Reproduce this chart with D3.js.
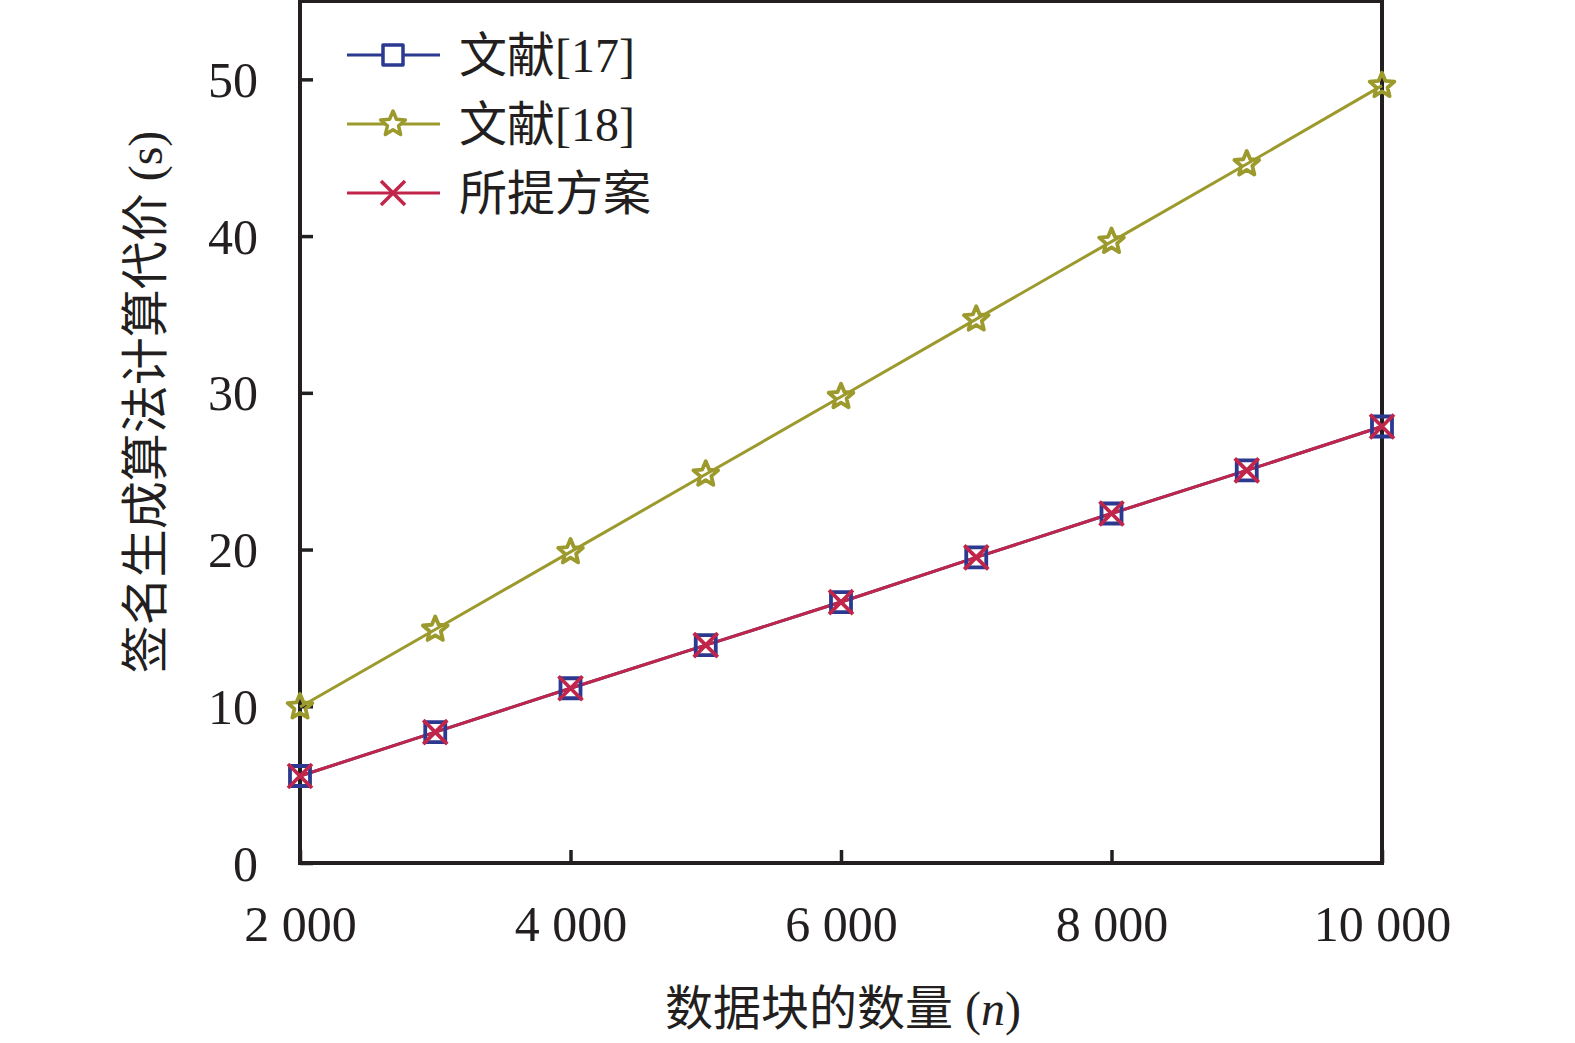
<!DOCTYPE html>
<html lang="zh">
  <head>
    <meta charset="UTF-8" />
    <title>签名生成算法计算代价</title>
    <script src="https://d3js.org/d3.v7.min.js"></script>
    <style>
      body {
        margin: 0;
        background: #fff;
      }
      svg {
        display: block;
        font-family: "Liberation Serif", "Noto Sans CJK SC", serif;
      }
      .tick-label {
        font-size: 50px;
        fill: #231f20;
      }
      .axis-title,
      .legend-text {
        font-size: 48px;
        fill: #231f20;
      }
      .series-line {
        fill: none;
        stroke-width: 3px;
      }
    </style>
  </head>
  <body>
    <svg id="chart"></svg>
    <script>
      // data
      const blockCounts = [2000, 3000, 4000, 5000, 6000, 7000, 8000, 9000, 10000];
      const ref17Costs = [5.55, 8.35, 11.15, 13.9, 16.65, 19.5, 22.3, 25.05, 27.85];
      const ref18Costs = [9.95, 14.9, 19.85, 24.8, 29.75, 34.7, 39.65, 44.6, 49.6];
      const proposedCosts = [5.55, 8.35, 11.15, 13.9, 16.65, 19.5, 22.3, 25.05, 27.85];
      const xTicks = [2000, 4000, 6000, 8000, 10000];
      const yTicks = [0, 10, 20, 30, 40, 50];
      const seriesNames = ["文献[17]", "文献[18]", "所提方案"];

      const width = 1575;
      const height = 1043;
      const margin = { top: 1, right: 193, bottom: 180, left: 300 };
      const ink = "#231f20";

      const series = [
        { name: seriesNames[1], values: ref18Costs, color: "#9c9a2c", marker: "star" },
        { name: seriesNames[0], values: ref17Costs, color: "#2b3990", marker: "square" },
        { name: seriesNames[2], values: proposedCosts, color: "#c1264a", marker: "cross" },
      ];

      const svg = d3.select("#chart").attr("width", width).attr("height", height);

      const x = d3
        .scaleLinear()
        .domain([2000, 10000])
        .range([margin.left, width - margin.right]);

      const y = d3
        .scaleLinear()
        .domain([0, 55])
        .range([height - margin.bottom, margin.top]);

      const fmt = d3.formatLocale({ thousands: " ", grouping: [3], decimal: ".", currency: ["", ""] }).format(",d");

      // marker shapes
      function starPath(r) {
        const inner = r * 0.45;
        const pts = [];
        for (let i = 0; i < 10; i++) {
          const a = -Math.PI / 2 + (i * Math.PI) / 5;
          const rr = i % 2 === 0 ? r : inner;
          pts.push([rr * Math.cos(a), rr * Math.sin(a)]);
        }
        return "M" + pts.map((p) => p.join(",")).join("L") + "Z";
      }
      function markerPath(kind) {
        if (kind === "square") return "M-10,-10H10V10H-10Z";
        if (kind === "cross") return "M-12,-12L12,12M12,-12L-12,12";
        return starPath(13);
      }

      // axes
      const xAxis = svg
        .append("g")
        .attr("transform", `translate(0,${y(0)})`)
        .call(d3.axisBottom(x).tickValues(xTicks).tickSize(-13).tickFormat(fmt).tickPadding(42));

      const yAxis = svg
        .append("g")
        .attr("transform", `translate(${x(2000)},0)`)
        .call(d3.axisLeft(y).tickValues(yTicks).tickSize(-13).tickPadding(42));

      [xAxis, yAxis].forEach((g) => {
        g.attr("font-family", null).attr("font-size", null);
        g.select(".domain").remove();
        g.selectAll(".tick line").attr("stroke", ink).attr("stroke-width", 3.5);
        g.selectAll(".tick text").attr("class", "tick-label").attr("fill", ink);
      });
      xAxis.selectAll(".tick text").attr("dy", "0.71em");
      yAxis.selectAll(".tick text").attr("dy", "0.34em");

      // frame
      svg
        .append("rect")
        .attr("x", x(2000))
        .attr("y", y(55))
        .attr("width", x(10000) - x(2000))
        .attr("height", y(0) - y(55))
        .attr("fill", "none")
        .attr("stroke", ink)
        .attr("stroke-width", 4);

      // lines and markers
      const line = d3
        .line()
        .x((d, i) => x(blockCounts[i]))
        .y((d) => y(d));

      series.forEach((s) => {
        svg
          .append("path")
          .datum(s.values)
          .attr("class", "series-line")
          .attr("stroke", s.color)
          .attr("d", line);
      });

      series.forEach((s) => {
        svg
          .append("g")
          .selectAll("path")
          .data(s.values)
          .join("path")
          .attr("transform", (d, i) => `translate(${x(blockCounts[i])},${y(d)})`)
          .attr("d", markerPath(s.marker))
          .attr("fill", "none")
          .attr("stroke", s.color)
          .attr("stroke-width", 3.8)
          .attr("stroke-linejoin", "round");
      });

      // legend
      const legendOrder = [series[1], series[0], series[2]];
      const legend = svg.append("g").attr("transform", "translate(347,55)");
      legendOrder.forEach((s, i) => {
        const row = legend.append("g").attr("transform", `translate(0,${i * 69})`);
        row.append("line")
          .attr("x1", 0)
          .attr("x2", 93)
          .attr("stroke", s.color)
          .attr("stroke-width", 3);
        row.append("path")
          .attr("transform", "translate(46,0)")
          .attr("d", markerPath(s.marker))
          .attr("fill", "#fff")
          .attr("stroke", s.color)
          .attr("stroke-width", 3.5)
          .attr("stroke-linejoin", "round");
        row.append("text")
          .attr("class", "legend-text")
          .attr("x", 112)
          .attr("dy", "0.36em")
          .text(s.name);
      });

      // axis titles
      const xTitle = svg
        .append("text")
        .attr("class", "axis-title")
        .attr("x", (x(2000) + x(10000)) / 2 + 2)
        .attr("y", 1025)
        .attr("text-anchor", "middle");
      xTitle.append("tspan").text("数据块的数量 (");
      xTitle.append("tspan").attr("font-style", "italic").text("n");
      xTitle.append("tspan").text(")");

      svg
        .append("text")
        .attr("class", "axis-title")
        .attr("transform", "translate(162,402) rotate(-90)")
        .attr("text-anchor", "middle")
        .text("签名生成算法计算代价 (s)");
    </script>
  </body>
</html>
